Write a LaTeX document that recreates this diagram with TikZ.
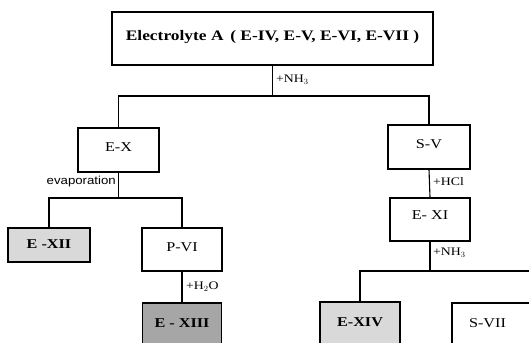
\documentclass[tikz,border=0pt]{standalone}
\usepackage{fontspec}
\setmainfont[FakeStretch=1.2]{Liberation Serif}
\newfontfamily\evapfont[FakeStretch=1.15]{Liberation Sans}
\begin{document}
\begin{tikzpicture}[x=1pt,y=-1pt,
  box/.style={draw=black,line width=1.4pt,inner sep=0pt,font=\fontsize{13.5}{15}\selectfont},
  lite/.style={box,fill=lightfill},
  dark/.style={box,fill=darkfill},
  conn/.style={line width=1.1pt},
  lab/.style={font=\fontsize{11.5}{13}\selectfont,inner sep=1pt}]
\definecolor{lightfill}{HTML}{D9D9D9}
\definecolor{darkfill}{HTML}{A6A6A6}
\useasboundingbox (0,0) rectangle (529,342);
\clip (0,0) rectangle (529,342);
% boxes
\node[box,minimum width=321pt,minimum height=53pt,font=\fontsize{14.5}{16}\selectfont\bfseries] (top) at (272.5,38.5) {\raisebox{6pt}{Electrolyte A \,( E-IV, E-V, E-VI, E-VII )}};
\node[box,minimum width=81pt,minimum height=44pt] (ex) at (118.5,150) {\raisebox{5pt}{E-X}};
\node[box,minimum width=82pt,minimum height=44pt] (sv) at (429,147) {\raisebox{5pt}{S-V}};
\node[lite,minimum width=82pt,minimum height=34pt,font=\fontsize{13.5}{15}\selectfont\bfseries] (exii) at (49,245) {\raisebox{1pt}{E -XII}};
\node[box,minimum width=80pt,minimum height=43pt] (pvi) at (182,249.5) {\raisebox{4pt}{P-VI}};
\node[box,minimum width=80pt,minimum height=43pt] (exi) at (430,219.5) {\raisebox{9pt}{E- XI}};
\node[dark,minimum width=79pt,minimum height=44pt,font=\fontsize{13.5}{15}\selectfont\bfseries] (exiii) at (182,325) {\raisebox{3pt}{E - XIII}};
\node[lite,minimum width=80pt,minimum height=44pt,font=\fontsize{13.5}{15}\selectfont\bfseries] (exiv) at (360,324) {\raisebox{3pt}{E-XIV}};
\node[box,minimum width=80pt,minimum height=44pt] (svii) at (492,325) {\raisebox{4pt}{\hspace*{-9pt}S-VII}};
% connectors
\coordinate (j1) at (272.5,96);
\draw[conn] (top.south) -- (j1);
\draw[conn] (ex.north) |- (j1) -| (sv.north);
\coordinate (j2) at (118.5,198);
\draw[conn] (ex.south) -- (j2);
\draw[conn] (exii.north) |- (j2) -| (pvi.north);
\draw[conn] (pvi.south) -- (exiii.north);
\draw[conn] (sv.south) -- (exi.north);
\coordinate (j3) at (430,271);
\draw[conn] (exi.south) -- (j3);
\draw[conn] (exiv.north) |- (j3) -| (svii.north east);
% labels
\node[lab,anchor=west] (l1) at (275,80) {+NH$_3$};
\node[lab,anchor=east,font=\evapfont\fontsize{11.5}{13}\selectfont] (l2) at (117,182) {evaporation};
\node[lab,anchor=west] (l3) at (185,287) {+H$_2$O};
\node[lab,anchor=west] (l4) at (432,182) {+HCl};
\node[lab,anchor=west] (l5) at (432,253) {+NH$_3$};
\end{tikzpicture}
\end{document}
